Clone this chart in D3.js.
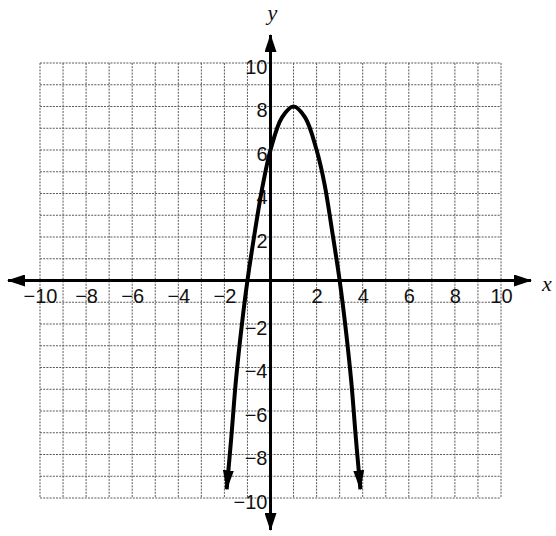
<!DOCTYPE html>
<html>
<head>
<meta charset="utf-8">
<script src="https://cdn.jsdelivr.net/npm/d3@7"></script>
<style>
  html, body { margin: 0; padding: 0; background: #fff; }
  svg { display: block; }
  .tick-label { font-family: "Liberation Sans", Arial, sans-serif; font-size: 20px; fill: #111; }
  .axis-name { font-family: "Liberation Serif", "Times New Roman", serif; font-style: italic; font-size: 22px; fill: #111; }
</style>
</head>
<body>
<svg id="chart" width="556" height="536"></svg>
<script>
// Grid extent and labelled ticks
const gridValues = d3.range(-10, 11);           // every integer line of the grid
const xTickLabels = [-10, -8, -6, -4, -2, 2, 4, 6, 8, 10];
const yTickLabels = [-10, -8, -6, -4, -2, 2, 4, 6, 8, 10];

// Points along the downward-opening parabola (vertex at (1, 8))
const curveX = [-1.9, -1.7, -1.5, -1.25, -1.0, -0.67, -0.35, 0, 0.5, 1, 1.5, 2, 2.35, 2.67, 3.0, 3.25, 3.5, 3.7, 3.9];
const curveY = [-9.6, -7.2, -4.6, -2.1, 0, 2.3, 4.3, 6.0, 7.5, 8, 7.5, 6, 4.4, 2.3, 0, -2.1, -4.6, -7.2, -9.6];

const svg = d3.select("#chart");

const x = d3.scaleLinear().domain([-10, 10]).range([40, 501]);
const y = d3.scaleLinear().domain([-10, 10]).range([498, 63]);

// Arrowheads
const defs = svg.append("defs");
defs.append("marker")
  .attr("id", "axisArrow")
  .attr("markerUnits", "userSpaceOnUse")
  .attr("viewBox", "0 -6 18 12")
  .attr("refX", 17).attr("refY", 0)
  .attr("markerWidth", 18).attr("markerHeight", 12)
  .attr("orient", "auto-start-reverse")
  .append("path").attr("d", "M0,-6L18,0L0,6Z").attr("fill", "#000");

defs.append("marker")
  .attr("id", "curveArrow")
  .attr("markerUnits", "userSpaceOnUse")
  .attr("viewBox", "0 -6 20 12")
  .attr("refX", 19).attr("refY", 0)
  .attr("markerWidth", 20).attr("markerHeight", 12)
  .attr("orient", "auto-start-reverse")
  .append("path").attr("d", "M0,-5.5L20,0L0,5.5Z").attr("fill", "#000");

// Grid
const grid = svg.append("g").attr("stroke", "#5a5a5a").attr("stroke-width", 1)
  .attr("stroke-dasharray", "2,1.2").attr("fill", "none");
grid.selectAll("line.v").data(gridValues).join("line").attr("class", "v")
  .attr("x1", d => x(d)).attr("x2", d => x(d))
  .attr("y1", y(10)).attr("y2", y(-10));
grid.selectAll("line.h").data(gridValues).join("line").attr("class", "h")
  .attr("y1", d => y(d)).attr("y2", d => y(d))
  .attr("x1", x(-10)).attr("x2", x(10));

// Axes with arrows at both ends
svg.append("line")
  .attr("x1", 8).attr("x2", 531)
  .attr("y1", y(0)).attr("y2", y(0))
  .attr("stroke", "#000").attr("stroke-width", 3)
  .attr("marker-start", "url(#axisArrow)").attr("marker-end", "url(#axisArrow)");
svg.append("line")
  .attr("x1", x(0)).attr("x2", x(0))
  .attr("y1", 35).attr("y2", 530)
  .attr("stroke", "#000").attr("stroke-width", 3)
  .attr("marker-start", "url(#axisArrow)").attr("marker-end", "url(#axisArrow)");

// Tick labels via d3 axes (no ticks or domain drawn)
const fmt = d3.format("d");
const xAxis = svg.append("g")
  .attr("transform", `translate(0,${y(0)})`)
  .call(d3.axisBottom(x).tickValues(xTickLabels).tickSize(0).tickPadding(8).tickFormat(fmt));
xAxis.select(".domain").remove();
xAxis.selectAll("text").attr("class", "tick-label");

const yAxis = svg.append("g")
  .attr("transform", `translate(${x(0)},0)`)
  .call(d3.axisLeft(y).tickValues(yTickLabels).tickSize(0).tickPadding(3).tickFormat(fmt));
yAxis.select(".domain").remove();
yAxis.selectAll("text").attr("class", "tick-label").attr("dy", "0.5em");
yAxis.attr("font-family", null).attr("font-size", null);
xAxis.attr("font-family", null).attr("font-size", null);

// Axis names
svg.append("text").attr("class", "axis-name")
  .attr("x", x(0) + 2).attr("y", 20).attr("text-anchor", "middle").text("y");
svg.append("text").attr("class", "axis-name")
  .attr("x", 547).attr("y", 291).attr("text-anchor", "middle").text("x");

// Parabola
const pts = curveX.map((v, i) => [v, curveY[i]]);
const line = d3.line().x(d => x(d[0])).y(d => y(d[1])).curve(d3.curveCatmullRom.alpha(0.5));
svg.append("path")
  .attr("d", line(pts))
  .attr("fill", "none")
  .attr("stroke", "#000")
  .attr("stroke-width", 4)
  .attr("stroke-linejoin", "round")
  .attr("marker-start", "url(#curveArrow)")
  .attr("marker-end", "url(#curveArrow)");
</script>
</body>
</html>
